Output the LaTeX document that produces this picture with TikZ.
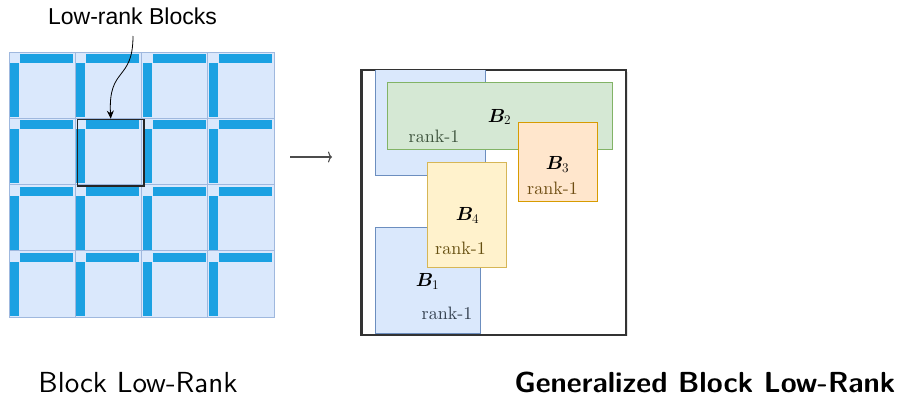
\RequirePackage{fix-cm}
\documentclass[tikz,border=0pt]{standalone}
\usepackage{bm}
\usepackage{fontspec}
\newfontfamily\labelfont{Liberation Sans}
\newfontfamily\rkfont{lmroman10-regular.otf}
\newfontfamily\capfont{lmsans10-regular.otf}[BoldFont=lmsans10-bold.otf]
\usetikzlibrary{arrows.meta,shadows}
\definecolor{cellfill}{HTML}{DAE8FC}
\definecolor{celldraw}{HTML}{9FB8DE}
\definecolor{bar}{HTML}{1BA1E2}
\definecolor{bluefill}{HTML}{DAE8FC}
\definecolor{bluedraw}{HTML}{6C8EBF}
\definecolor{greenfill}{HTML}{D5E8D4}
\definecolor{greendraw}{HTML}{82B366}
\definecolor{orangefill}{HTML}{FFE6CC}
\definecolor{orangedraw}{HTML}{D79B00}
\definecolor{yellowfill}{HTML}{FFF2CC}
\definecolor{yellowdraw}{HTML}{D6B656}
\definecolor{bluetext}{HTML}{333F4E}
\definecolor{greentext}{HTML}{3C523B}
\definecolor{orangetext}{HTML}{6E4D12}
\definecolor{yellowtext}{HTML}{654F10}
\tikzset{
  cell/.style={draw=celldraw, fill=cellfill, line width=0.8pt},
  barfill/.style={fill=bar},
  blk/.style={anchor=north west, inner sep=0pt, outer sep=0pt, line width=0.9pt},
  rk/.style={anchor=base, inner sep=0pt, font=\rkfont\fontsize{18}{20}\selectfont},
  bl/.style={anchor=base, inner sep=0pt, font=\fontsize{19}{21}\selectfont},
  captext/.style={anchor=base, inner sep=0pt, font=\capfont\fontsize{29}{32}\selectfont},
}
\begin{document}
\begin{tikzpicture}[x=1pt,y=-1pt]
\useasboundingbox (0,0) rectangle (898,397);
% grid of blocks
\foreach \i in {0,1,2,3}{
  \foreach \j in {0,1,2,3}{
    \pgfmathsetmacro{\xa}{9+66.25*\i}
    \pgfmathsetmacro{\ya}{52+66.25*\j}
    \draw[cell] (\xa,\ya) rectangle ++(66.25,66.25);
    \fill[barfill] (\xa+11,\ya+2) rectangle (\xa+64,\ya+11);
    \fill[barfill] (\xa+1,\ya+11) rectangle (\xa+10,\ya+65);
  }
}
\node[draw=black!85, line width=1.8pt, anchor=north west, minimum width=66.5pt, minimum height=66.5pt, inner sep=0pt] (hl) at (76.6,118.6) {};
\node[font=\labelfont\fontsize{23}{26}\selectfont, inner sep=0pt] (lbl) at (132.5,16) {Low-rank Blocks};
\coordinate (a0) at (133,36);
\draw[-{Stealth[length=8pt,width=7pt]}, line width=0.8pt] (a0) .. controls (133,82) and (108,66) .. (hl.north);
% arrow symbol
\coordinate (arrA) at (290,157);
\coordinate (arrB) at (332,157);
\draw[black!70, line width=1.1pt, -{To[length=4pt,width=11pt]}] (arrA) -- (arrB);
% generalized block
\node[anchor=north west, inner sep=0pt, minimum width=264pt, minimum height=264pt, fill=white, draw=black!80, line width=1.5pt,
  drop shadow={shadow xshift=2pt, shadow yshift=-2pt, opacity=0.25, fill=black!40}] (gb) at (361,69.5) {};
\node[blk, draw=bluedraw, fill=bluefill, minimum width=110.7pt, minimum height=106.2pt] (b1top) at (375,69.5) {};
\node[blk, draw=greendraw, fill=greenfill, minimum width=224.3pt, minimum height=66.6pt] (b2) at (387.7,82.7) {};
\node[blk, draw=bluedraw, fill=bluefill, minimum width=105.7pt, minimum height=105.6pt] (b1) at (375,227.7) {};
\node[blk, draw=yellowdraw, fill=yellowfill, minimum width=79pt, minimum height=105.7pt] (b4) at (427.7,162) {};
\node[blk, draw=orangedraw, fill=orangefill, minimum width=79.3pt, minimum height=79.4pt] (b3) at (518,122.3) {};
\draw[draw=black!80, line width=1.5pt] (gb.north west) rectangle (gb.south east);
% labels
\node[bl] (l2) at (499.5,122) {$\bm{B}_2$};
\node[rk, text=greentext] (r2) at (434,142.5) {rank-1};
\node[bl] (l3) at (557.5,169.5) {$\bm{B}_3$};
\node[rk, text=orangetext] (r3) at (552.5,194.5) {rank-1};
\node[bl] (l4) at (467.5,220.5) {$\bm{B}_4$};
\node[rk, text=yellowtext] (r4) at (460.5,254) {rank-1};
\node[bl] (l1) at (427.5,286.5) {$\bm{B}_1$};
\node[rk, text=bluetext] (r1) at (447,319.5) {rank-1};
% captions
\node[captext] (c1) at (138,392) {Block Low-Rank};
\node[captext, font=\capfont\bfseries\fontsize{29}{32}\selectfont] (c2) at (705,392) {Generalized Block Low-Rank};
\end{tikzpicture}
\end{document}
